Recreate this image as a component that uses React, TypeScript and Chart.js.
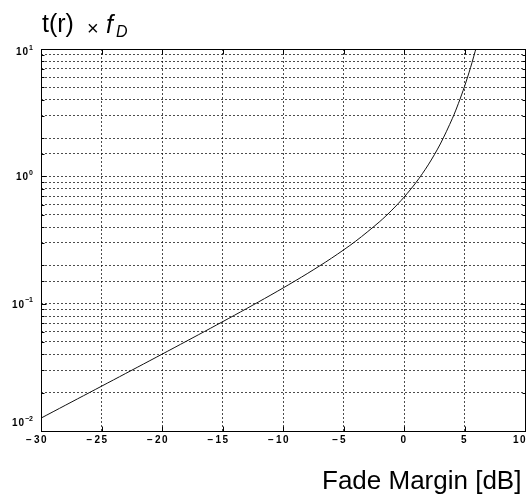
import { useEffect, useRef } from 'react';
import { Chart, registerables } from 'chart.js';

Chart.register(...registerables);

// Fade margin [dB] (x) and normalised average fade duration t(r)·f_D (y)
const fadeMarginDb = [-30, -28, -26, -24, -22, -20, -18, -16, -14, -12, -10, -8, -6, -4, -2, -1, 0, 1, 2, 3, 4, 4.5, 5, 5.5, 6];
const durationTimesFd = [
  0.01262, 0.0159, 0.02002, 0.02522, 0.03179, 0.04009, 0.05063, 0.06403, 0.0812, 0.10344,
  0.13268, 0.1721, 0.2273, 0.3092, 0.44172, 0.54295, 0.6855, 0.8965, 1.2293, 1.7948,
  2.8517, 3.742, 5.0756, 7.148, 10.51,
];
const xTicks = [-30, -25, -20, -15, -10, -5, 0, 5, 10];
const yDecades = [0.01, 0.1, 1, 10];
const yExponents = ['-2', '-1', '0', '1'];
const xMin = -30;
const xMax = 10;
const yMin = 0.01;
const yMax = 10;
const titleMain = 't(r)';
const titleTimes = '×';
const titleF = 'f';
const titleSub = 'D';
const xAxisTitle = 'Fade Margin [dB]';

const FONT = '"Liberation Sans", Arial, Helvetica, sans-serif';

export default function App() {
  const ref = useRef<HTMLCanvasElement>(null);

  useEffect(() => {
    document.body.style.margin = '0';
    const canvas = ref.current;
    if (!canvas) return;

    const matlabPlugin = {
      id: 'matlabFrame',
      afterDatasetsDraw(chart: any) {
        const { ctx, chartArea: a, scales } = chart;
        const xs = scales.x;
        const ys = scales.y;
        const al = (v: number) => Math.round(v) + 0.5;
        const L = al(a.left);
        const R = al(a.right);
        const T = al(a.top);
        const B = al(a.bottom);
        ctx.save();
        ctx.setLineDash([]);
        ctx.strokeStyle = '#000';
        ctx.lineWidth = 1;
        ctx.strokeRect(L, T, R - L, B - T);
        ctx.beginPath();
        for (const v of xTicks) {
          const px = al(xs.getPixelForValue(v));
          ctx.moveTo(px, B);
          ctx.lineTo(px, B - 5);
          ctx.moveTo(px, T);
          ctx.lineTo(px, T + 5);
        }
        for (const t of ys.ticks) {
          const py = al(ys.getPixelForValue(t.value));
          const major = yDecades.some((d) => Math.abs(Math.log10(d) - Math.log10(t.value)) < 1e-6);
          const len = major ? 5 : 3;
          ctx.moveTo(L, py);
          ctx.lineTo(L + len, py);
          ctx.moveTo(R, py);
          ctx.lineTo(R - len, py);
        }
        ctx.stroke();

        ctx.fillStyle = '#000';
        ctx.textBaseline = 'alphabetic';
        ctx.textAlign = 'left';

        // x tick labels: digits centred on the tick, minus sign hanging to the left
        for (const v of xTicks) {
          const px = xs.getPixelForValue(v);
          const digits = String(Math.abs(v));
          ctx.font = `bold 10px ${FONT}`;
          (ctx as any).letterSpacing = '1.5px';
          const w = ctx.measureText(digits).width;
          let x0 = px - w / 2;
          if (x0 + w > a.right + 2) x0 = a.right + 2 - w;
          ctx.fillText(digits, x0, 443);
          if (v < 0) {
            (ctx as any).letterSpacing = '0px';
            const mw = ctx.measureText('−').width;
            ctx.fillText('−', x0 - mw - 2, 443);
          }
        }
        (ctx as any).letterSpacing = '0px';

        // y tick labels 10^n
        yDecades.forEach((d, i) => {
          const py = ys.getPixelForValue(d);
          const cy = Math.min(Math.max(py, a.top + 2), a.bottom - 9);
          const exp = yExponents[i].replace('-', '−');
          ctx.font = `bold 10px ${FONT}`;
          (ctx as any).letterSpacing = '1px';
          const bw = ctx.measureText('10').width;
          ctx.font = `bold 7px ${FONT}`;
          (ctx as any).letterSpacing = '0px';
          const sw = ctx.measureText(exp).width;
          const x0 = 33 - bw - sw;
          ctx.font = `bold 10px ${FONT}`;
          (ctx as any).letterSpacing = '1px';
          ctx.fillText('10', x0, cy + 4);
          (ctx as any).letterSpacing = '0px';
          ctx.font = `bold 7px ${FONT}`;
          ctx.fillText(exp, x0 + bw, cy - 1.5);
        });

        // title t(r) × f_D
        ctx.font = `25px ${FONT}`;
        ctx.fillText(titleMain, 42, 32);
        ctx.font = `20px ${FONT}`;
        ctx.fillText(titleTimes, 87, 35);
        ctx.font = `italic 25px ${FONT}`;
        ctx.fillText(titleF, 106, 33);
        ctx.font = `italic 16px ${FONT}`;
        ctx.fillText(titleSub, 116, 37);

        // x axis title
        ctx.font = `26px ${FONT}`;
        ctx.fillText(xAxisTitle, 322, 489);
        ctx.restore();
      },
    };

    const gridColor = 'rgba(0,0,0,0.7)';
    const chart = new Chart(canvas, {
      type: 'line',
      data: {
        datasets: [
          {
            data: fadeMarginDb.map((x, i) => ({ x, y: durationTimesFd[i] })),
            borderColor: '#111',
            borderWidth: 1,
            pointRadius: 0,
            tension: 0.3,
            fill: false,
          },
        ],
      },
      options: {
        responsive: false,
        animation: false,
        devicePixelRatio: 1,
        layout: { padding: { left: 41, top: 49, right: 6, bottom: 67 } },
        plugins: { legend: { display: false }, tooltip: { enabled: false }, title: { display: false } },
        scales: {
          x: {
            type: 'linear',
            min: xMin,
            max: xMax,
            afterFit: (s: any) => {
              s.height = 0;
            },
            ticks: { display: false, stepSize: 5 },
            grid: { color: gridColor, lineWidth: 1, drawTicks: false },
            border: { display: false, dash: [2, 2] },
          },
          y: {
            type: 'logarithmic',
            min: yMin,
            max: yMax,
            afterFit: (s: any) => {
              s.width = 0;
            },
            ticks: { display: false },
            grid: { color: gridColor, lineWidth: 1, drawTicks: false },
            border: { display: false, dash: [2, 2] },
          },
        },
      },
      plugins: [matlabPlugin],
    } as any);

    return () => chart.destroy();
  }, []);

  return (
    <div style={{ width: 531, height: 498, background: '#fff' }}>
      <canvas ref={ref} width={531} height={498} style={{ display: 'block', width: 531, height: 498 }} />
    </div>
  );
}
